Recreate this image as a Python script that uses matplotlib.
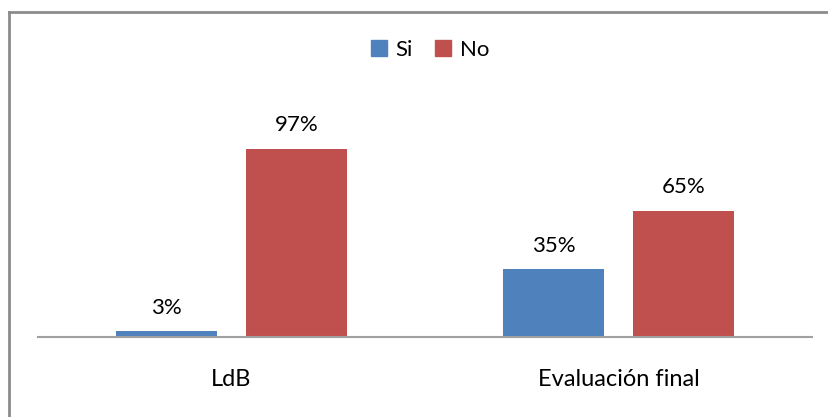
import matplotlib.pyplot as plt
from matplotlib.lines import Line2D
from matplotlib.patches import Patch
import numpy as np

categories = ["LdB", "Evaluación final"]
si = [3, 35]
no = [97, 65]
labels_si = ["3%", "35%"]
labels_no = ["97%", "65%"]

blue = "#4F81BD"
red = "#C0504D"
plt.rcParams['font.family'] = ['Lato', 'DejaVu Sans']

fig = plt.figure(figsize=(8.29, 4.17), dpi=100)
ax = fig.add_axes([38/829, 80/417, (812-38)/829, 194/417])

x = np.arange(len(categories))
w = 0.262
off = 0.168
b1 = ax.bar(x - off, si, w, color=blue)
b2 = ax.bar(x + off, no, w, color=red)
for bar, lab in zip(b1, labels_si):
    ax.text(bar.get_x() + bar.get_width()/2, bar.get_height() + 7, lab,
            ha="center", va="bottom", fontsize=16)
for bar, lab in zip(b2, labels_no):
    ax.text(bar.get_x() + bar.get_width()/2, bar.get_height() + 7, lab,
            ha="center", va="bottom", fontsize=16)

ax.set_xlim(-0.5, 1.5)
ax.set_ylim(0, 100)
ax.set_xticks(x)
ax.set_xticklabels(categories, fontsize=17)
ax.tick_params(axis="x", length=0, pad=23)
ax.set_yticks([])
for s in ["top", "right", "left"]:
    ax.spines[s].set_visible(False)
ax.spines["bottom"].set_color("#A0A0A0")
ax.spines["bottom"].set_linewidth(1.5)

handles = [Patch(color=blue, label="Si"), Patch(color=red, label="No")]
fig.legend(handles=handles, loc="center", bbox_to_anchor=(430/829, 1 - 50/417),
           ncol=2, frameon=False, fontsize=16, handlelength=0.7, handleheight=0.7,
           handletextpad=0.4, columnspacing=1.0)

# border of the chart area
fig.add_artist(Line2D([9.5/829, 1], [1 - 11.5/417, 1 - 11.5/417], color="#8C8C8C", lw=2))
fig.add_artist(Line2D([9.5/829, 9.5/829], [0, 1 - 11.5/417], color="#8C8C8C", lw=2))

fig.savefig("out.png", dpi=100)
